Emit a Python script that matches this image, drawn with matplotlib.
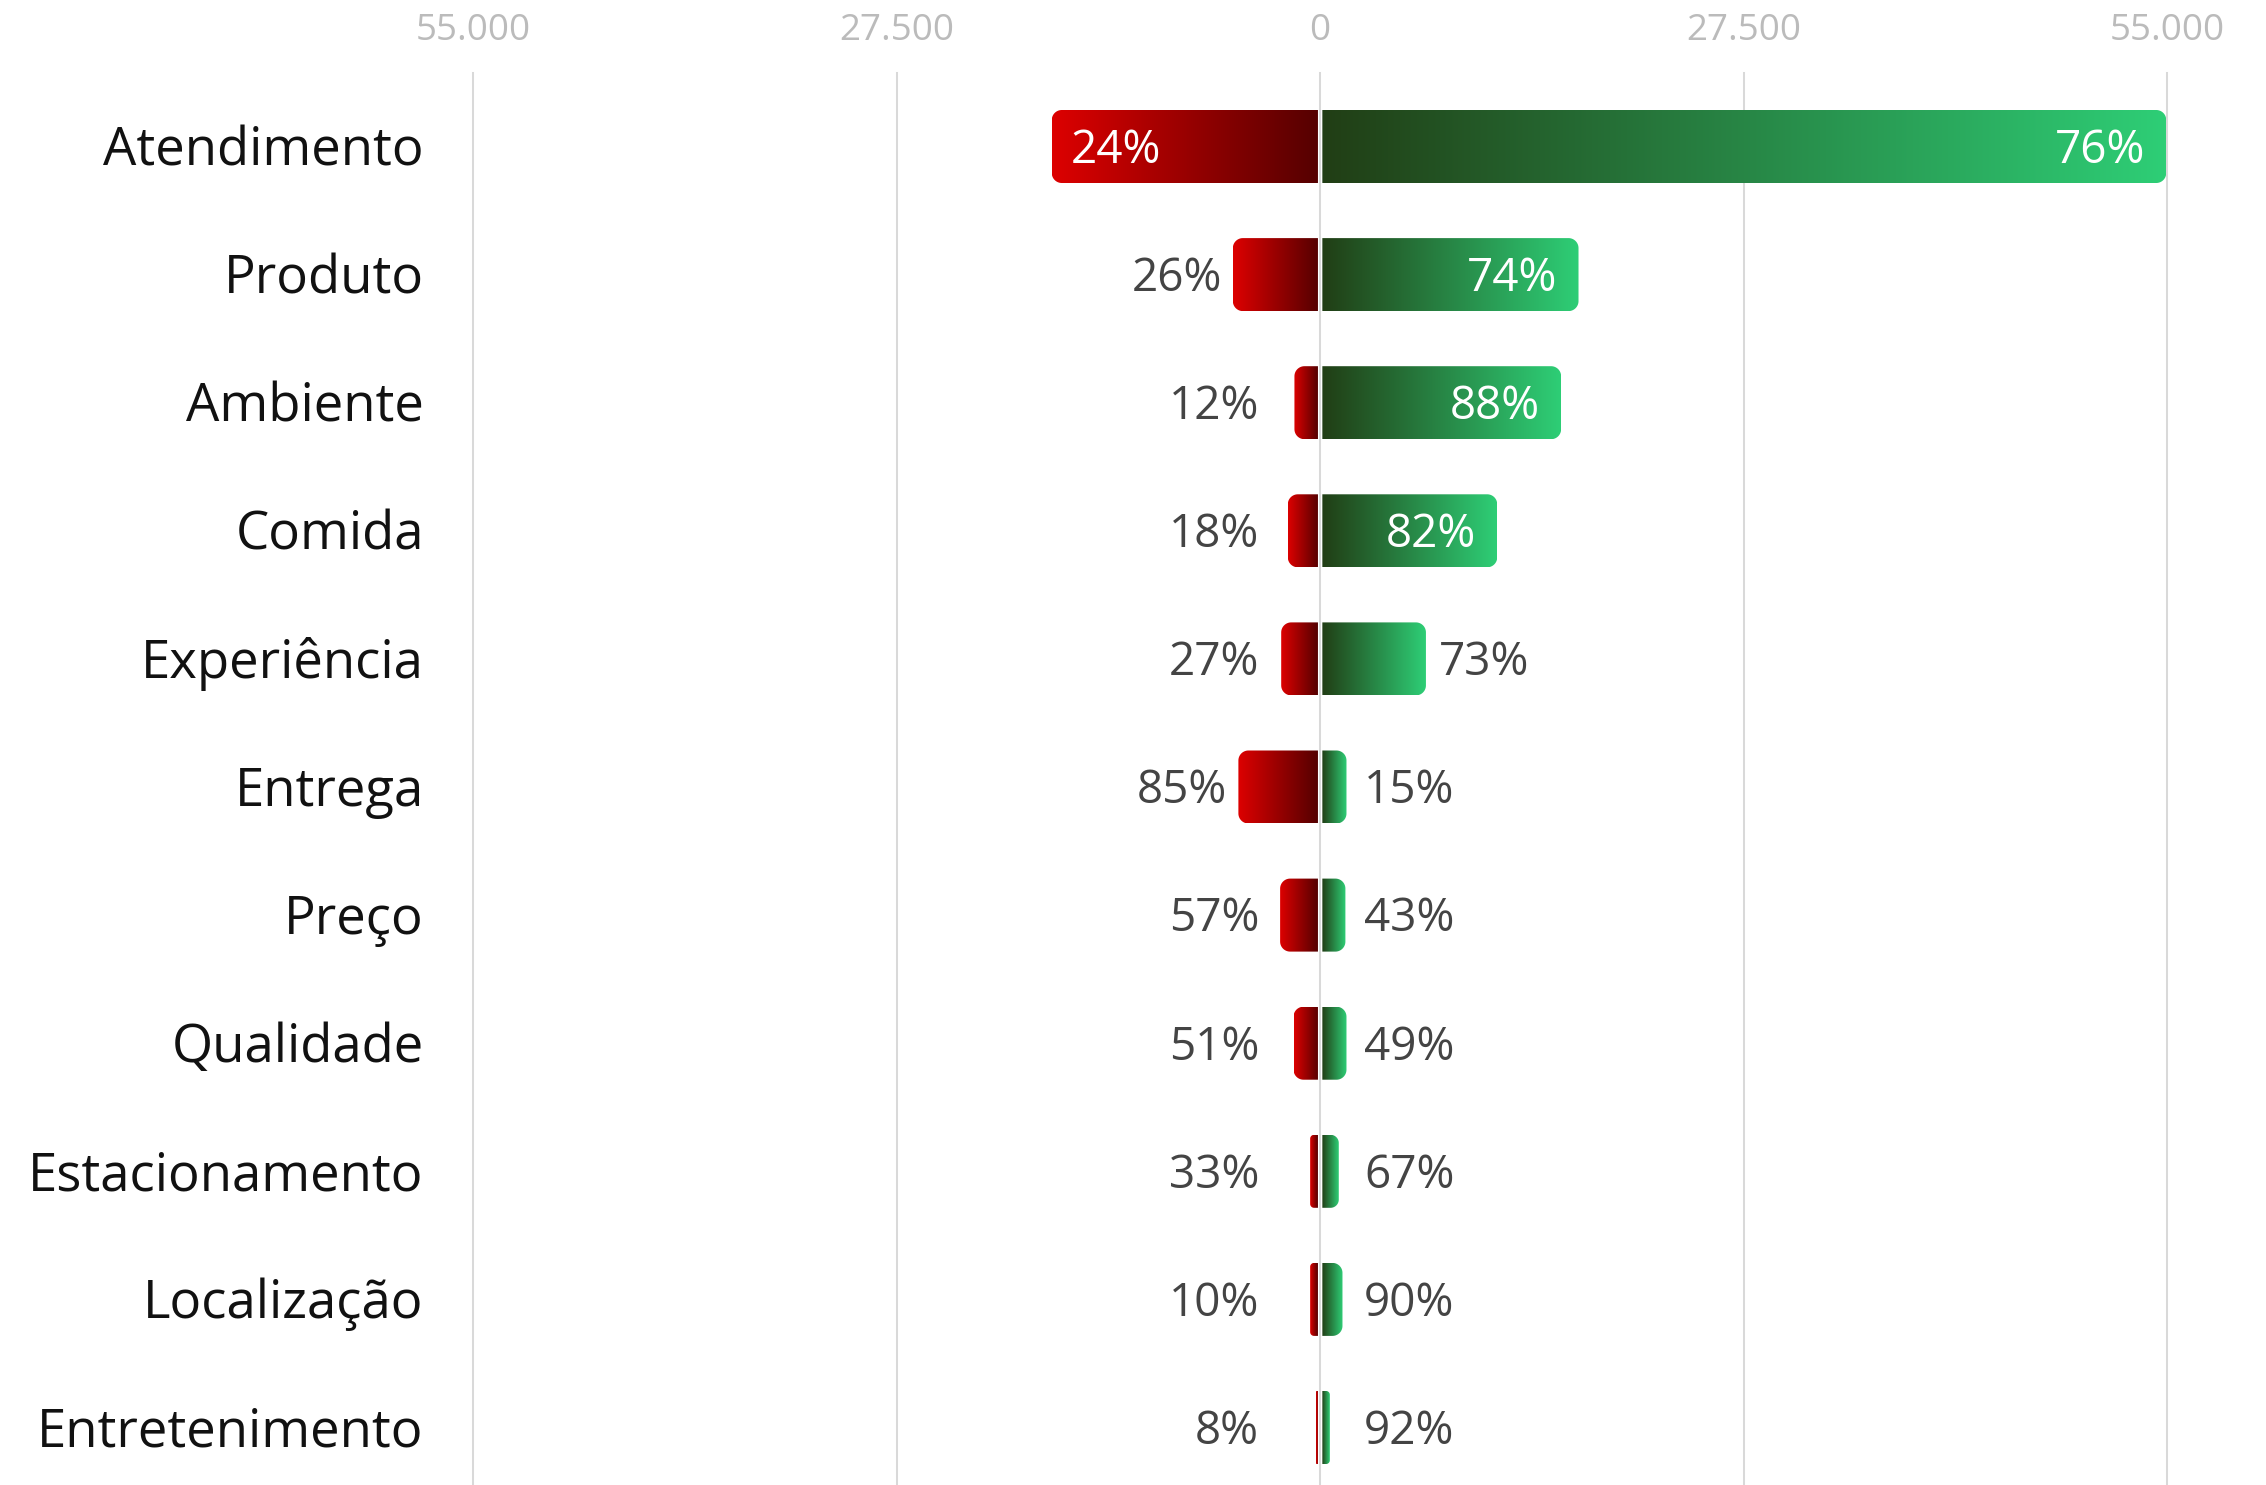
import numpy as np
import matplotlib
matplotlib.use("Agg")
import matplotlib.pyplot as plt
from matplotlib.path import Path
from matplotlib.patches import PathPatch

# ---------------- data ----------------
categories = ["Atendimento", "Produto", "Ambiente", "Comida", "Experiência", "Entrega",
              "Preço", "Qualidade", "Estacionamento", "Localização", "Entretenimento"]
negativos = [17430, 5670, 1670, 2100, 2530, 5310, 2600, 1730, 650, 650, 280]
positivos = [54950, 16780, 15650, 11500, 6870, 1710, 1640, 1710, 1210, 1450, 630]
pct_neg = ["24%", "26%", "12%", "18%", "27%", "85%", "57%", "51%", "33%", "10%", "8%"]
pct_pos = ["76%", "74%", "88%", "82%", "73%", "15%", "43%", "49%", "67%", "90%", "92%"]
x_ticks = [-55000, -27500, 0, 27500, 55000]
x_tick_labels = ["55.000", "27.500", "0", "27.500", "55.000"]

# ---------------- style ----------------
FONT = ["Open Sans", "DejaVu Sans"]
plt.rcParams["font.family"] = FONT
W, H, DPI = 2266, 1485, 100
PT = DPI / 72.0

RED_INNER, RED_OUTER = (85, 0, 0), (221, 0, 0)
GRN_INNER, GRN_OUTER = (33, 62, 21), (46, 206, 118)
GRID_COLOR = "#d9d9d9"
TICK_COLOR = "#bbbbbb"
CAT_COLOR = "#111111"
LBL_COLOR = "#444444"

fig = plt.figure(figsize=(W / DPI, H / DPI), dpi=DPI)
ax_left_px, ax_right_px, ax_top_px = 473.3, 2167.0, 72.7
ax = fig.add_axes([ax_left_px / W, 0, (ax_right_px - ax_left_px) / W, (H - ax_top_px) / H])

row0_px, step_px = 146.5, 128.1
xmin, xmax = -55000, 55000
ax.set_xlim(xmin, xmax)
ylim = ((H - row0_px) / step_px, -(row0_px - ax_top_px) / step_px)
ax.set_ylim(*ylim)

pxx = (ax_right_px - ax_left_px) / (xmax - xmin)   # px per unit
pxy = step_px                                       # px per category

bar_h = 73.0 / step_px
radius_px = 10.0
gap = 2.2 / pxx

for s in ax.spines.values():
    s.set_visible(False)
ax.set_yticks([])
ax.xaxis.tick_top()
ax.set_xticks(x_ticks)
ax.set_xticklabels(x_tick_labels, fontsize=26.5, color=TICK_COLOR)
ax.tick_params(axis="x", length=0, pad=17)
for xt in x_ticks:
    ax.axvline(xt, color=GRID_COLOR, lw=1.45, zorder=0, clip_on=False)


def bar_path(x_inner, x_outer, yc, h):
    sx = 1 if x_outer > x_inner else -1
    width_px = abs(x_outer - x_inner) * pxx
    r = min(radius_px, width_px / 2.0, h * pxy / 2.0)
    rx, ry = r / pxx, r / pxy
    top, bot = yc - h / 2.0, yc + h / 2.0
    t = np.linspace(0, np.pi / 2, 24)
    c1x, c1y = x_outer - sx * rx, top + ry
    arc1 = np.column_stack([c1x + sx * rx * np.sin(t), c1y - ry * np.cos(t)])
    c2x, c2y = x_outer - sx * rx, bot - ry
    arc2 = np.column_stack([c2x + sx * rx * np.cos(t), c2y + ry * np.sin(t)])
    verts = np.vstack([[(x_inner, top)], arc1, arc2, [(x_inner, bot)], [(x_inner, top)]])
    codes = [Path.MOVETO] + [Path.LINETO] * (len(verts) - 2) + [Path.CLOSEPOLY]
    return Path(verts, codes)


def gradient_bar(x_inner, x_outer, yc, h, c_inner, c_outer):
    path = bar_path(x_inner, x_outer, yc, h)
    patch = PathPatch(path, transform=ax.transData, facecolor="none", edgecolor="none")
    ax.add_patch(patch)
    n = 256
    f = np.linspace(0, 1, n)[:, None]
    ci, co = np.array(c_inner) / 255.0, np.array(c_outer) / 255.0
    grad = (ci[None, :] * (1 - f) + co[None, :] * f)[None, :, :]
    im = ax.imshow(grad, extent=(x_inner, x_outer, yc + h / 2.0, yc - h / 2.0),
                   aspect="auto", interpolation="bilinear", zorder=2)
    im.set_clip_path(patch)


def text_baseline(yc, fs_pt):
    return yc + 0.357 * fs_pt * PT / pxy


LBL_FS = 33
CAT_FS = 38
inside_thr = 9000
neg_col_x = (1259 - 1320.2) / pxx
pos_col_x = (1364 - 1320.2) / pxx

for i, cat in enumerate(categories):
    yc = i
    nv, pv = negativos[i], positivos[i]
    gradient_bar(-gap, -nv, yc, bar_h, RED_INNER, RED_OUTER)
    gradient_bar(gap, pv, yc, bar_h, GRN_INNER, GRN_OUTER)

    yb = text_baseline(yc, LBL_FS)
    if nv > inside_thr:
        ax.text(-nv + 19 / pxx, yb, pct_neg[i], ha="left", va="baseline",
                fontsize=LBL_FS, color="white", zorder=3)
    else:
        ax.text(min(-nv - 11 / pxx, neg_col_x), yb, pct_neg[i], ha="right", va="baseline",
                fontsize=LBL_FS, color=LBL_COLOR, zorder=3)
    if pv > inside_thr:
        ax.text(pv - 21 / pxx, yb, pct_pos[i], ha="right", va="baseline",
                fontsize=LBL_FS, color="white", zorder=3)
    else:
        ax.text(max(pv + 13 / pxx, pos_col_x), yb, pct_pos[i], ha="left", va="baseline",
                fontsize=LBL_FS, color=LBL_COLOR, zorder=3)

    ax.text(xmin - 49.5 / pxx, text_baseline(yc, CAT_FS), cat, ha="right", va="baseline",
            fontsize=CAT_FS, color=CAT_COLOR, clip_on=False)

ax.set_xlim(xmin, xmax)
ax.set_ylim(*ylim)
fig.savefig("out.png", dpi=DPI)
